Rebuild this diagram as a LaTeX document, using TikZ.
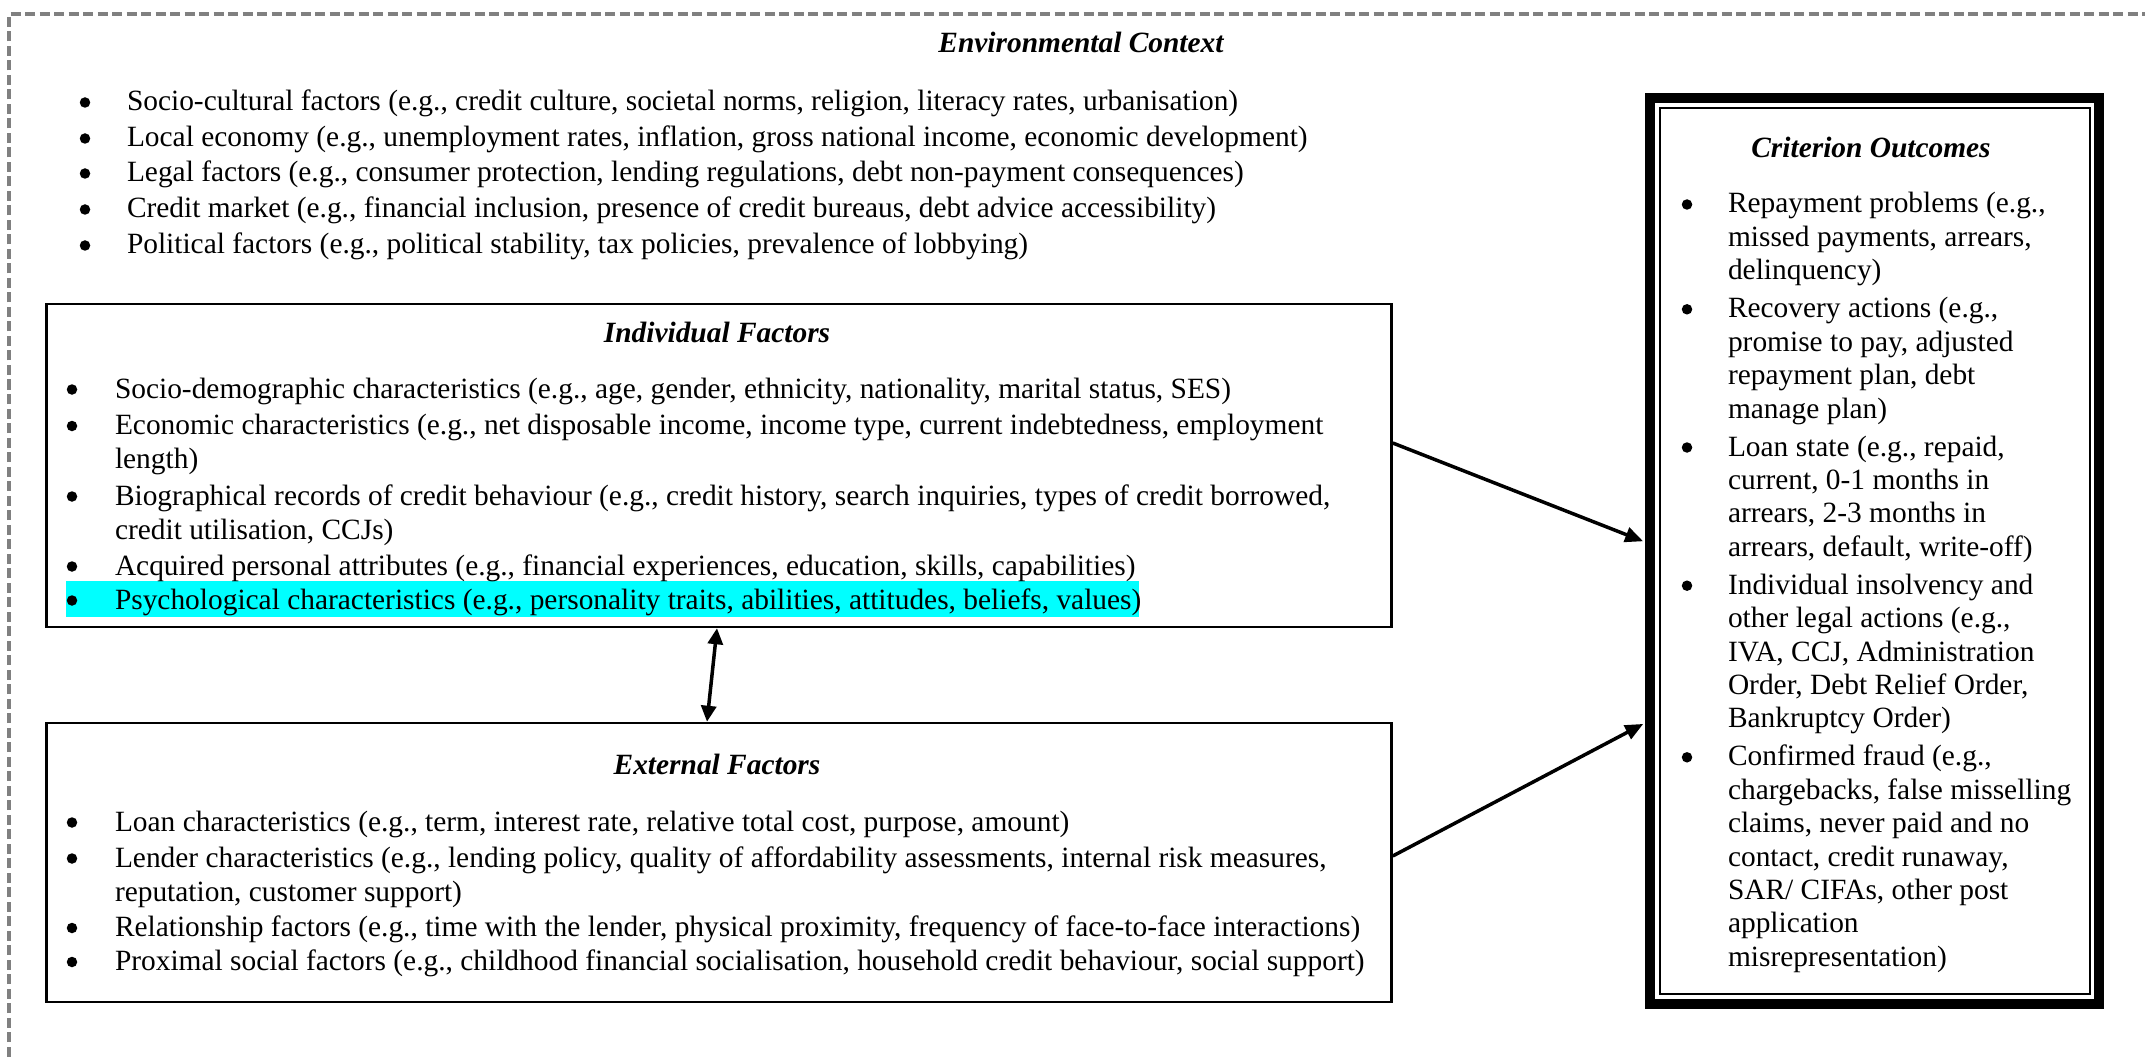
\documentclass[tikz,border=0pt]{standalone}
\usepackage{fontspec}
\setmainfont{Liberation Serif}
\usetikzlibrary{arrows.meta}
\definecolor{marker}{RGB}{0,255,255}
\definecolor{framegray}{RGB}{128,128,128}

\begin{document}
\begin{tikzpicture}[x=1pt,y=-1pt,
  every node/.style={inner sep=0pt, outer sep=0pt},
  body/.style={font=\fontsize{29.4}{34}\selectfont},
  txt/.style={body, anchor=base west},
  bul/.style={circle, fill, minimum size=10.5pt, yshift=8.5pt},
  head/.style={anchor=base, font=\fontsize{29.4}{34}\selectfont\bfseries\itshape},
  box/.style={draw, line width=2.5pt, outer sep=1.25pt},
  link/.style={line width=3.5pt, -{Triangle[length=18pt,width=15pt]}},
  twoway/.style={line width=3.5pt, {Triangle[length=16pt,width=15pt]}-{Triangle[length=16pt,width=15pt]}},
  envline/.style={draw=framegray, line width=3.2pt, dash pattern=on 10pt off 4.5pt},
]
\useasboundingbox (0,0) rectangle (2145,1059);

% dashed frame of the environmental context (runs off the right and bottom)
\begin{scope}
  \clip (0,0) rectangle (2145,1059);
  \draw[envline] (9,1100) -- (9,14) -- (2200,14);
\end{scope}

% ---------- environmental context ----------
\node[head] (envh) at (1081,53) {Environmental Context};
\node[bul] (eb1) at (85,111) {};
\node[txt] (et1) at (127,111) {Socio-cultural factors (e.g., credit culture, societal norms, religion, literacy rates, urbanisation)};
\node[bul] (eb2) at (85,147) {};
\node[txt] (et2) at (127,147) {Local economy (e.g., unemployment rates, inflation, gross national income, economic development)};
\node[bul] (eb3) at (85,182) {};
\node[txt] (et3) at (127,182) {Legal factors (e.g., consumer protection, lending regulations, debt non-payment consequences)};
\node[bul] (eb4) at (85,218) {};
\node[txt] (et4) at (127,218) {Credit market (e.g., financial inclusion, presence of credit bureaus, debt advice accessibility)};
\node[bul] (eb5) at (85,254) {};
\node[txt] (et5) at (127,254) {Political factors (e.g., political stability, tax policies, prevalence of lobbying)};

% ---------- individual factors ----------
\node[box, minimum width=1345, minimum height=323] (ind) at (719,465.5) {};
\fill[marker] (66,581) rectangle (1139,617);
\node[head] (indh) at (717,342) {Individual Factors};
\node[bul] (ib1) at (72,398) {};
\node[txt] (it1) at (115,398) {Socio-demographic characteristics (e.g., age, gender, ethnicity, nationality, marital status, SES)};
\node[bul] (ib2) at (72,434.5) {};
\node[txt] (it2) at (115,434.5) {Economic characteristics (e.g., net disposable income, income type, current indebtedness, employment};
\node[txt] (it2b) at (115,468.5) {length)};
\node[bul] (ib3) at (72,505) {};
\node[txt] (it3) at (115,505) {Biographical records of credit behaviour (e.g., credit history, search inquiries, types of credit borrowed,};
\node[txt] (it3b) at (115,539) {credit utilisation, CCJs)};
\node[bul] (ib4) at (72,575) {};
\node[txt] (it4) at (115,575) {Acquired personal attributes (e.g., financial experiences, education, skills, capabilities)};
\node[bul] (ib5) at (72,609) {};
\node[txt] (it5) at (115,609) {Psychological characteristics (e.g., personality traits, abilities, attitudes, beliefs, values)};

% ---------- external factors ----------
\node[box, minimum width=1345, minimum height=279] (ext) at (719,862.5) {};
\node[head] (exth) at (717,774) {External Factors};
\node[bul] (xb1) at (72,831) {};
\node[txt] (xt1) at (115,831) {Loan characteristics (e.g., term, interest rate, relative total cost, purpose, amount)};
\node[bul] (xb2) at (72,867) {};
\node[txt] (xt2) at (115,867) {Lender characteristics (e.g., lending policy, quality of affordability assessments, internal risk measures,};
\node[txt] (xt2b) at (115,901) {reputation, customer support)};
\node[bul] (xb3) at (72,936.5) {};
\node[txt] (xt3) at (115,936.5) {Relationship factors (e.g., time with the lender, physical proximity, frequency of face-to-face interactions)};
\node[bul] (xb4) at (72,970.5) {};
\node[txt] (xt4) at (115,970.5) {Proximal social factors (e.g., childhood financial socialisation, household credit behaviour, social support)};

% ---------- criterion outcomes (thick-thin frame) ----------
\node[draw, line width=10pt, outer sep=5pt, minimum width=449, minimum height=906] (crit) at (1874.5,551) {};
\node[draw, line width=2pt, minimum width=430, minimum height=886] (critin) at (1874.5,551) {};
\node[head] (crith) at (1871,158) {Criterion Outcomes};

\node[bul] (cb1) at (1687,213) {};
\node[txt] (ct1a) at (1728,213) {Repayment problems (e.g.,};
\node[txt] (ct1b) at (1728,246.4) {missed payments, arrears,};
\node[txt] (ct1c) at (1728,279.8) {delinquency)};
\node[bul] (cb2) at (1687,317.8) {};
\node[txt] (ct2a) at (1728,317.8) {Recovery actions (e.g.,};
\node[txt] (ct2b) at (1728,351.2) {promise to pay, adjusted};
\node[txt] (ct2c) at (1728,384.6) {repayment plan, debt};
\node[txt] (ct2d) at (1728,418) {manage plan)};
\node[bul] (cb3) at (1687,456) {};
\node[txt] (ct3a) at (1728,456) {Loan state (e.g., repaid,};
\node[txt] (ct3b) at (1728,489.4) {current, 0-1 months in};
\node[txt] (ct3c) at (1728,522.8) {arrears, 2-3 months in};
\node[txt] (ct3d) at (1728,556.2) {arrears, default, write-off)};
\node[bul] (cb4) at (1687,594.2) {};
\node[txt] (ct4a) at (1728,594.2) {Individual insolvency and};
\node[txt] (ct4b) at (1728,627.6) {other legal actions (e.g.,};
\node[txt] (ct4c) at (1728,661) {IVA, CCJ, Administration};
\node[txt] (ct4d) at (1728,694.4) {Order, Debt Relief Order,};
\node[txt] (ct4e) at (1728,727.8) {Bankruptcy Order)};
\node[bul] (cb5) at (1687,765.8) {};
\node[txt] (ct5a) at (1728,765.8) {Confirmed fraud (e.g.,};
\node[txt] (ct5b) at (1728,799.2) {chargebacks, false misselling};
\node[txt] (ct5c) at (1728,832.6) {claims, never paid and no};
\node[txt] (ct5d) at (1728,866) {contact, credit runaway,};
\node[txt] (ct5e) at (1728,899.4) {SAR/ CIFAs, other post};
\node[txt] (ct5f) at (1728,932.8) {application};
\node[txt] (ct5g) at (1728,966.2) {misrepresentation)};

% ---------- connectors ----------
\draw[link, shorten >=2pt] ([yshift=22.5pt]ind.east) -- ([yshift=9pt]crit.west);
\draw[link, shorten >=2pt] ([yshift=6.5pt]ext.east) -- ([yshift=-172pt]crit.west);
\draw[twoway] ([xshift=-2pt]ind.south) -- ([xshift=-12pt]ext.north);
\end{tikzpicture}
\end{document}
